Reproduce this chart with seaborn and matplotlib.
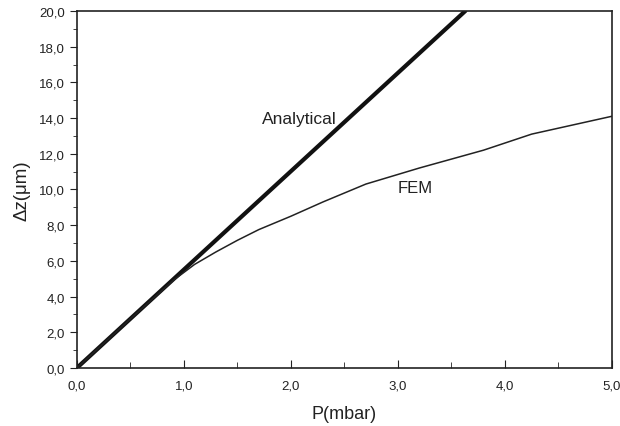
import numpy as np
import pandas as pd
import matplotlib
matplotlib.use("Agg")
import matplotlib.pyplot as plt
import seaborn as sns
from matplotlib.ticker import FuncFormatter, MultipleLocator

# === 数据 ===
analytical_p = [0.0, 3.63]
analytical_dz = [0.0, 20.0]

fem_p = [0.0, 0.5, 0.9, 1.1, 1.3, 1.5, 1.7, 2.0, 2.3, 2.7, 3.2, 3.8, 4.25, 5.0]
fem_dz = [0.0, 2.75, 4.9, 5.8, 6.5, 7.15, 7.75, 8.5, 9.3, 10.3, 11.2, 12.2, 13.1, 14.1]

sns.set_style("ticks")
plt.rcParams['font.family'] = ['Liberation Sans', 'DejaVu Sans']

df_an = pd.DataFrame({"P": analytical_p, "dz": analytical_dz})
df_fem = pd.DataFrame({"P": fem_p, "dz": fem_dz})

fig = plt.figure(figsize=(6.2, 4.27), dpi=100)
ax = fig.add_axes([0.124, 0.136, 0.863, 0.836])

sns.lineplot(data=df_an, x="P", y="dz", ax=ax, color="#111111", linewidth=3.0)
sns.lineplot(data=df_fem, x="P", y="dz", ax=ax, color="#222222", linewidth=1.1)

ax.text(2.08, 13.95, "Analytical", fontsize=12.5, ha="center", va="center", color="#222222")
ax.text(3.16, 10.1, "FEM", fontsize=12, ha="center", va="center", color="#222222")

ax.set_xlim(0, 5)
ax.set_ylim(0, 20)
ax.xaxis.set_major_locator(MultipleLocator(1.0))
ax.xaxis.set_minor_locator(MultipleLocator(0.5))
ax.yaxis.set_major_locator(MultipleLocator(2.0))
ax.yaxis.set_minor_locator(MultipleLocator(1.0))

comma = FuncFormatter(lambda v, pos: f"{v:.1f}".replace(".", ","))
ax.xaxis.set_major_formatter(comma)
ax.yaxis.set_major_formatter(comma)

ax.tick_params(axis="x", which="both", direction="in", labelsize=9.5, pad=8, colors="#222222")
ax.tick_params(axis="x", which="major", length=6)
ax.tick_params(axis="x", which="minor", length=4)
ax.tick_params(axis="y", which="both", direction="out", labelsize=9.5, colors="#222222")
ax.tick_params(axis="y", which="major", length=5)
ax.tick_params(axis="y", which="minor", length=3)

for s in ax.spines.values():
    s.set_visible(True)
    s.set_color("#222222")
    s.set_linewidth(1.2)

ax.set_xlabel("P(mbar)", fontsize=13, color="#222222", labelpad=10)
ax.set_ylabel("Δz(μm)", fontsize=13.5, color="#222222", labelpad=6)

fig.savefig("out.png", dpi=100)
plt.close(fig)
